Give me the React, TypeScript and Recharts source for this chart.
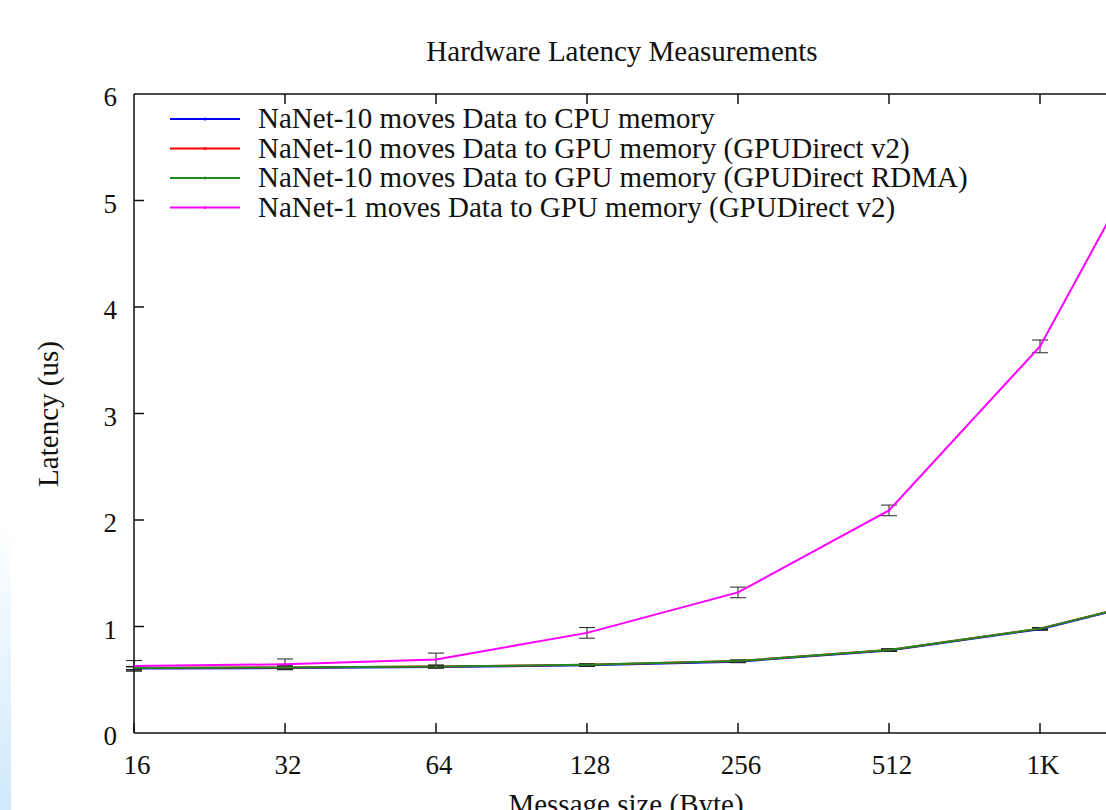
import { LineChart, Line, XAxis, YAxis, ErrorBar, Legend, Label } from 'recharts'

const FONT = '"Liberation Serif", "Times New Roman", serif'
const INK = '#111'

// message sizes (Byte), log2 spaced; 2K point lies past the visible crop
const SIZES = [16, 32, 64, 128, 256, 512, 1024, 2048]
const X_TICKS = [16, 32, 64, 128, 256, 512, 1024]
const Y_TICKS = [0, 1, 2, 3, 4, 5, 6]

// latency (us)
const CPU10 = [0.605, 0.61, 0.62, 0.635, 0.67, 0.775, 0.975, 1.33]
const GPU10_V2 = [0.61, 0.615, 0.625, 0.64, 0.675, 0.78, 0.98, 1.33]
const GPU10_RDMA = [0.61, 0.615, 0.625, 0.64, 0.675, 0.78, 0.98, 1.33]
const GPU1_V2 = [0.63, 0.645, 0.69, 0.94, 1.32, 2.09, 3.63, 6.23]
const ERR10 = [0.015, 0.015, 0.012, 0.01, 0.01, 0.01, 0.01, 0.01]
const ERR1 = [0.05, 0.05, 0.06, 0.05, 0.05, 0.05, 0.06, 0.06]

const SERIES = [
  { key: 'cpu10', err: 'e10', name: 'NaNet-10 moves Data to CPU memory', color: '#0000ff' },
  { key: 'gpu10v2', err: 'e10', name: 'NaNet-10 moves Data to GPU memory (GPUDirect v2)', color: '#ff0000' },
  { key: 'gpu10rdma', err: 'e10', name: 'NaNet-10 moves Data to GPU memory (GPUDirect RDMA)', color: '#1f8a1f' },
  { key: 'gpu1v2', err: 'e1', name: 'NaNet-1 moves Data to GPU memory (GPUDirect v2)', color: '#ff00ff' },
]

const rows = SIZES.map((s, i) => ({
  size: s,
  cpu10: CPU10[i],
  gpu10v2: GPU10_V2[i],
  gpu10rdma: GPU10_RDMA[i],
  gpu1v2: GPU1_V2[i],
  e10: ERR10[i],
  e1: ERR1[i],
}))

const fmtSize = (v: number) => (v >= 1024 ? `${v / 1024}K` : `${v}`)

const BottomTick = ({ x, y, payload }: any) => (
  <g>
    <line x1={x} x2={x} y1={y} y2={y - 10} stroke={INK} strokeWidth={1.5} />
    <text x={x + 3} y={y + 41} textAnchor="middle" fontFamily={FONT} fontSize={27} fill={INK}>
      {fmtSize(payload.value)}
    </text>
  </g>
)

const TopTick = ({ x, y }: any) => (
  <line x1={x} x2={x} y1={y} y2={y + 10} stroke={INK} strokeWidth={1.5} />
)

const LeftTick = ({ x, y, payload }: any) => (
  <g>
    {payload.value > 0 && payload.value < 6 && (
      <line x1={x} x2={x + 10} y1={y} y2={y} stroke={INK} strokeWidth={1.5} />
    )}
    <text x={x - 17} y={y + 12} textAnchor="end" fontFamily={FONT} fontSize={27} fill={INK}>
      {payload.value}
    </text>
  </g>
)

// key box: rows 29.5px apart, sample line with a point marker in the middle
const KeyBox = () => (
  <svg width={830} height={135} style={{ display: 'block', overflow: 'visible' }}>
    {SERIES.map((s, i) => {
      const y = 25 + i * 29.5
      return (
        <g key={s.key}>
          <line x1={0} x2={70} y1={y} y2={y} stroke={s.color} strokeWidth={2} />
          <circle cx={35} cy={y} r={1.5} fill={s.color} />
          <text x={88} y={y + 9} fontFamily={FONT} fontSize={29} fill={INK}>{s.name}</text>
        </g>
      )
    })}
  </svg>
)

export default function App() {
  return (
    <div style={{ position: 'absolute', left: 0, top: 0, width: 1106, height: 810, overflow: 'hidden', background: '#fff' }}>
      <div style={{
        position: 'absolute', left: 0, top: 520, width: 11, height: 290,
        background: 'linear-gradient(to bottom, rgba(207,232,251,0), #cfe8fb)',
      }} />
      <div style={{
        position: 'absolute', left: 0, top: 34, width: 1244, textAlign: 'center',
        fontFamily: FONT, fontSize: 29, color: INK, lineHeight: '34px',
      }}>
        Hardware Latency Measurements
      </div>
      <LineChart width={1300} height={810} data={rows} margin={{ top: 92, right: 109, bottom: 0, left: 0 }}>
        <XAxis
          dataKey="size" type="number" scale="log" domain={[16, 2048]} ticks={X_TICKS}
          allowDataOverflow height={77} tickSize={0} tickMargin={0}
          axisLine={{ stroke: INK, strokeWidth: 1.5 }} tickLine={false} tick={<BottomTick />}
        >
          <Label
            content={() => (
              <text x={626} y={814} textAnchor="middle" fontFamily={FONT} fontSize={29} fill={INK}>
                Message size (Byte)
              </text>
            )}
          />
        </XAxis>
        <XAxis
          xAxisId="top" orientation="top" dataKey="size" type="number" scale="log" domain={[16, 2048]}
          ticks={X_TICKS.slice(1)} allowDataOverflow height={2} tickSize={0} tickMargin={0}
          axisLine={{ stroke: INK, strokeWidth: 1.5 }} tickLine={false} tick={<TopTick />}
        />
        <YAxis
          type="number" domain={[0, 6]} ticks={Y_TICKS} allowDataOverflow width={134}
          tickSize={0} tickMargin={0} axisLine={{ stroke: INK, strokeWidth: 1.5 }} tickLine={false}
          tick={<LeftTick />}
        >
          <Label
            content={() => (
              <text x={58} y={414} transform="rotate(-90 58 414)" textAnchor="middle"
                fontFamily={FONT} fontSize={29} fill={INK}>
                Latency (us)
              </text>
            )}
          />
        </YAxis>
        <Legend
          layout="vertical" align="center" verticalAlign="middle"
          content={<KeyBox />}
          wrapperStyle={{ left: 170, top: 94, width: 830 }}
        />
        {SERIES.map((s) => (
          <Line
            key={s.key} type="linear" dataKey={s.key} name={s.name} stroke={s.color} strokeWidth={2}
            dot={{ r: 1.3, fill: s.color, stroke: 'none' }} activeDot={false} isAnimationActive={false}
          >
            <ErrorBar dataKey={s.err} width={8} stroke="#222" strokeWidth={1} direction="y" />
          </Line>
        ))}
      </LineChart>
    </div>
  )
}
